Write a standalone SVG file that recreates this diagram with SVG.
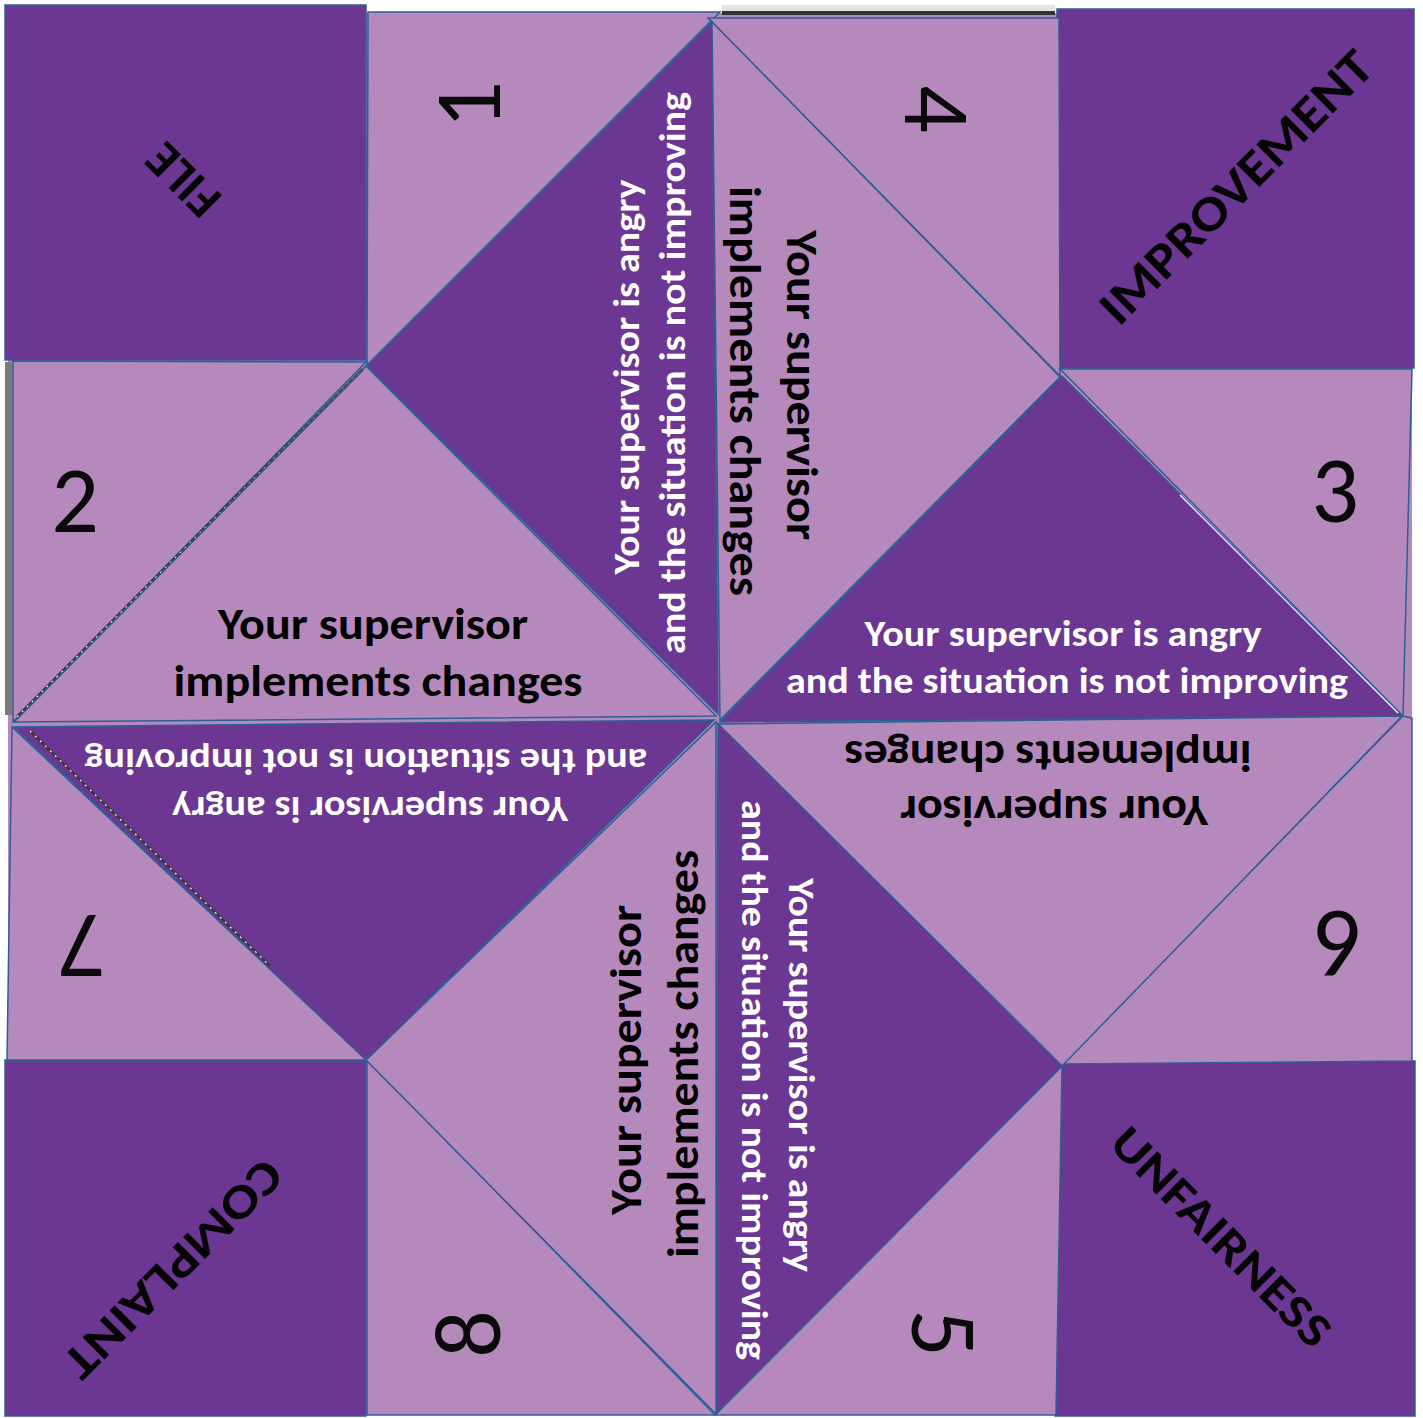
<svg xmlns="http://www.w3.org/2000/svg" width="1423" height="1418" viewBox="0 0 1423 1418">
<style>
.dk{fill:#6C3693;stroke:#2E5F94;stroke-width:1.5;stroke-linejoin:miter}
.lt{fill:#B689BD;stroke:#2E5F94;stroke-width:1.5;stroke-linejoin:miter}
.t{font-family:Carlito,Lato,"Open Sans",sans-serif;font-weight:700;text-anchor:middle}
.w{fill:#ffffff;font-size:36px}
.b{fill:#000000;font-size:44px}
.num{font-family:Carlito,Lato,"Open Sans",sans-serif;font-weight:400;font-size:94px;fill:#0a0a0a;text-anchor:middle}
.cl{font-family:Carlito,Lato,"Open Sans",sans-serif;font-weight:700;fill:#050505;text-anchor:middle}
</style>
<rect x="0" y="0" width="1423" height="1418" fill="#ffffff"/>
<rect x="8" y="13" width="1404" height="1402" fill="#B689BD"/>
<g id="artifacts">
<rect x="722" y="5" width="333" height="6" fill="#e3e4e2"/>
<rect x="722" y="11" width="333" height="4" fill="#333333"/>
<rect x="5" y="362" width="7" height="353" fill="#7a7a7a"/>
</g>
<g id="corner-file">
<rect class="dk" x="5" y="5" width="361" height="355"/>
<text class="cl" font-size="50" transform="translate(182,181) rotate(225)" y="18">FILE</text>
</g>
<g id="corner-improvement">
<rect class="dk" x="1057" y="9" width="357" height="359"/>
<text class="cl" font-size="50" textLength="364" lengthAdjust="spacingAndGlyphs" transform="translate(1235,186) rotate(-45)" y="18">IMPROVEMENT</text>
</g>
<g id="corner-complaint">
<rect class="dk" x="5" y="1060" width="361" height="356"/>
<text class="cl" font-size="48" textLength="288" lengthAdjust="spacingAndGlyphs" transform="translate(174,1270) rotate(135)" y="17">COMPLAINT</text>
</g>
<g id="corner-unfairness">
<rect class="dk" x="1055" y="1061" width="360" height="355"/>
<text class="cl" font-size="48" textLength="290" lengthAdjust="spacingAndGlyphs" transform="translate(1222,1236) rotate(45)" y="17">UNFAIRNESS</text>
</g>
<g id="flap-1">
<polygon class="lt" points="368,12 720,12 367,365"/>
<text class="num" transform="translate(500,105) rotate(-90)">1</text>
</g>
<g id="flap-4">
<polygon class="lt" points="708,18 1059,18 1060,376"/>
<text class="num" transform="translate(905,109) rotate(90)">4</text>
</g>
<g id="flap-3">
<polygon class="lt" points="1060,369 1412,369 1403,716"/>
<text class="num" x="1335" y="522">3</text>
</g>
<g id="flap-6">
<polygon class="lt" points="1403,716 1412,718 1412,1061 1062,1064"/>
<text class="num" transform="translate(1338,911) rotate(180)">6</text>
</g>
<g id="flap-5">
<polygon class="lt" points="1062,1066 1056,1415 715,1415"/>
<text class="num" transform="translate(912,1333) rotate(90)">5</text>
</g>
<g id="flap-8">
<polygon class="lt" points="715,1415 367,1415 367,1060"/>
<text class="num" transform="translate(500,1334) rotate(-90)">8</text>
</g>
<g id="flap-7">
<polygon class="lt" points="367,1060 7,1060 12,727"/>
<text class="num" transform="translate(82,915) rotate(180)">7</text>
</g>
<g id="flap-2">
<polygon class="lt" points="13,722 13,361 366,362"/>
<text class="num" x="75" y="532">2</text>
</g>
<g id="inner-a">
<polygon class="dk" points="712,22 367,366 718,714"/>
<text class="t w" transform="translate(639,377) rotate(-90)"><tspan x="0" y="0" textLength="395" lengthAdjust="spacingAndGlyphs">Your supervisor is angry</tspan></text>
<text class="t w" transform="translate(685,373) rotate(-90)"><tspan x="0" y="0" textLength="562" lengthAdjust="spacingAndGlyphs">and the situation is not improving</tspan></text>
</g>
<g id="inner-b">
<polygon class="lt" points="712,22 1060,377 720,720"/>
<text class="t b" transform="translate(787,385) rotate(90)"><tspan x="0" y="0" textLength="310" lengthAdjust="spacingAndGlyphs">Your supervisor</tspan></text>
<text class="t b" transform="translate(730,391) rotate(90)"><tspan x="0" y="0" textLength="410" lengthAdjust="spacingAndGlyphs">implements changes</tspan></text>
</g>
<g id="inner-c">
<polygon class="dk" points="1062,376 1402,716 720,722"/>
<text class="t w" x="1063" y="646" textLength="397" lengthAdjust="spacingAndGlyphs">Your supervisor is angry</text>
<text class="t w" x="1067" y="693" textLength="562" lengthAdjust="spacingAndGlyphs">and the situation is not improving</text>
</g>
<g id="inner-d">
<polygon class="lt" points="1402,716 1062,1066 718,724"/>
<text class="t b" transform="translate(1054,796) rotate(180)"><tspan x="0" y="0" textLength="308" lengthAdjust="spacingAndGlyphs">Your supervisor</tspan></text>
<text class="t b" transform="translate(1048,741) rotate(180)"><tspan x="0" y="0" textLength="407" lengthAdjust="spacingAndGlyphs">implements changes</tspan></text>
</g>
<g id="inner-e">
<polygon class="dk" points="1062,1066 716,1414 718,724"/>
<text class="t w" transform="translate(789,1075) rotate(90)"><tspan x="0" y="0" textLength="394" lengthAdjust="spacingAndGlyphs">Your supervisor is angry</tspan></text>
<text class="t w" transform="translate(742,1080) rotate(90)"><tspan x="0" y="0" textLength="560" lengthAdjust="spacingAndGlyphs">and the situation is not improving</tspan></text>
</g>
<g id="inner-f">
<polygon class="lt" points="716,1414 366,1060 716,722"/>
<text class="t b" transform="translate(641,1060) rotate(-90)"><tspan x="0" y="0" textLength="310" lengthAdjust="spacingAndGlyphs">Your supervisor</tspan></text>
<text class="t b" transform="translate(698,1054) rotate(-90)"><tspan x="0" y="0" textLength="408" lengthAdjust="spacingAndGlyphs">implements changes</tspan></text>
</g>
<g id="inner-g">
<polygon class="dk" points="366,1060 14,727 714,720"/>
<text class="t w" transform="translate(370,797) rotate(180)"><tspan x="0" y="0" textLength="396" lengthAdjust="spacingAndGlyphs">Your supervisor is angry</tspan></text>
<text class="t w" transform="translate(366,749) rotate(180)"><tspan x="0" y="0" textLength="563" lengthAdjust="spacingAndGlyphs">and the situation is not improving</tspan></text>
</g>
<g id="inner-h">
<polygon class="lt" points="14,722 366,366 716,716"/>
<text class="t b" x="373" y="639" textLength="310" lengthAdjust="spacingAndGlyphs">Your supervisor</text>
<text class="t b" x="378" y="696" textLength="409" lengthAdjust="spacingAndGlyphs">implements changes</text>
</g>
<g id="fold-marks" fill="none">
<line x1="17" y1="717" x2="363" y2="369" stroke="#3a3a3a" stroke-width="3"/>
<line x1="17" y1="717" x2="363" y2="369" stroke="#ffffff" stroke-width="1.2" stroke-dasharray="2 5"/>
<line x1="30" y1="731" x2="270" y2="966" stroke="#3a3a3a" stroke-width="2.5"/>
<line x1="30" y1="731" x2="270" y2="966" stroke="#ffffff" stroke-width="1.2" stroke-dasharray="2 5"/>
<line x1="1180" y1="495" x2="1398" y2="713" stroke="#ffffff" stroke-width="1.2"/>
<line x1="14" y1="722" x2="366" y2="366" stroke="#2E5F94" stroke-width="1.2"/>
</g>
</svg>
